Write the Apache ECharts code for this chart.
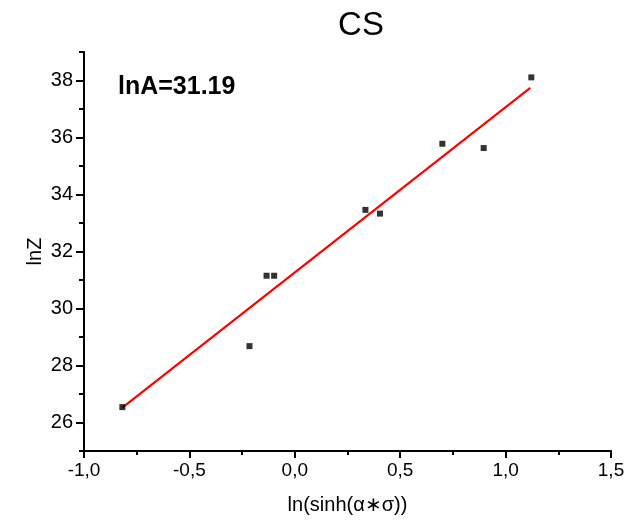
<!DOCTYPE html>
<html>
<head>
<meta charset="utf-8">
<script src="https://cdn.jsdelivr.net/npm/echarts@6/dist/echarts.min.js"></script>
<style>
html,body{margin:0;padding:0;background:#fff;}
#chart{width:635px;height:525px;}
</style>
</head>
<body>
<div id="chart"></div>
<script>
// Data
const xValues = [-0.818, -0.215, -0.134, -0.098, 0.335, 0.404, 0.700, 0.896, 1.122];
const yValues = [26.54, 28.68, 31.15, 31.15, 33.46, 33.33, 35.78, 35.63, 38.11];
const fitX = [-0.818, 1.117];
const fitY = [26.52, 37.74];
const yMajorTicks = [26, 28, 30, 32, 34, 36, 38];
const yMinorTicks = [25, 27, 29, 31, 33, 35, 37, 39];
const titleText = 'CS';
const annotation = 'lnA=31.19';
const xName = 'ln(sinh(\u03b1\u2217\u03c3))';
const yName = 'lnZ';

const FONT = '"Liberation Sans", Arial, Helvetica, sans-serif';
const chart = echarts.init(document.getElementById('chart'), null, {renderer: 'canvas'});

const scatterData = xValues.map((x, i) => [x, yValues[i]]);
const fitData = fitX.map((x, i) => [x, fitY[i]]);

chart.setOption({
  animation: false,
  backgroundColor: '#ffffff',
  grid: {left: 84, right: 24, top: 52, bottom: 74, containLabel: false},
  graphic: [
    {type: 'text', x: 361, y: 26, style: {text: titleText, font: '33px ' + FONT, fill: '#000', textAlign: 'center', textVerticalAlign: 'middle'}},
    {type: 'text', x: 118, y: 87, style: {text: annotation, font: 'bold 25px ' + FONT, fill: '#000', textAlign: 'left', textVerticalAlign: 'middle'}}
  ],
  xAxis: {
    type: 'value', min: -1, max: 1.5, interval: 0.5,
    name: xName, nameLocation: 'middle', nameGap: 44,
    nameTextStyle: {fontSize: 20, fontFamily: FONT, color: '#000'},
    axisLine: {show: true, onZero: false, lineStyle: {color: '#000', width: 2}},
    axisTick: {show: true, length: 7, lineStyle: {color: '#000', width: 2}},
    minorTick: {show: true, splitNumber: 2, length: 4, lineStyle: {color: '#000', width: 2}},
    splitLine: {show: false},
    axisLabel: {fontSize: 19, fontFamily: FONT, color: '#000', margin: 10,
      formatter: v => v.toFixed(1).replace('.', ',')}
  },
  yAxis: [
    {
      type: 'value', min: 25, max: 39, interval: 1, position: 'left',
      name: yName, nameLocation: 'middle', nameGap: 39, nameRotate: 90, nameMoveOverlap: false,
      nameTextStyle: {fontSize: 20, fontFamily: FONT, color: '#000'},
      axisLine: {show: true, onZero: false, lineStyle: {color: '#000', width: 2}},
      axisTick: {show: true, length: 8, customValues: yMajorTicks, lineStyle: {color: '#000', width: 2}},
      splitLine: {show: false},
      axisLabel: {fontSize: 20, fontFamily: FONT, color: '#000', margin: 11, customValues: yMajorTicks,
        formatter: v => String(v)}
    },
    {
      type: 'value', min: 25, max: 39, interval: 1, position: 'left', offset: 0,
      axisLine: {show: false, onZero: false},
      axisTick: {show: true, length: 5, customValues: yMinorTicks, lineStyle: {color: '#000', width: 2}},
      axisLabel: {show: false},
      splitLine: {show: false}
    }
  ],
  series: [
    {
      type: 'line', data: fitData, showSymbol: false, symbol: 'none',
      lineStyle: {color: '#ff0000', width: 2.2}, z: 2, silent: true
    },
    {
      type: 'scatter', data: scatterData, symbol: 'rect', symbolSize: 6,
      itemStyle: {color: '#000'}, z: 3, silent: true
    }
  ]
});
</script>
</body>
</html>
